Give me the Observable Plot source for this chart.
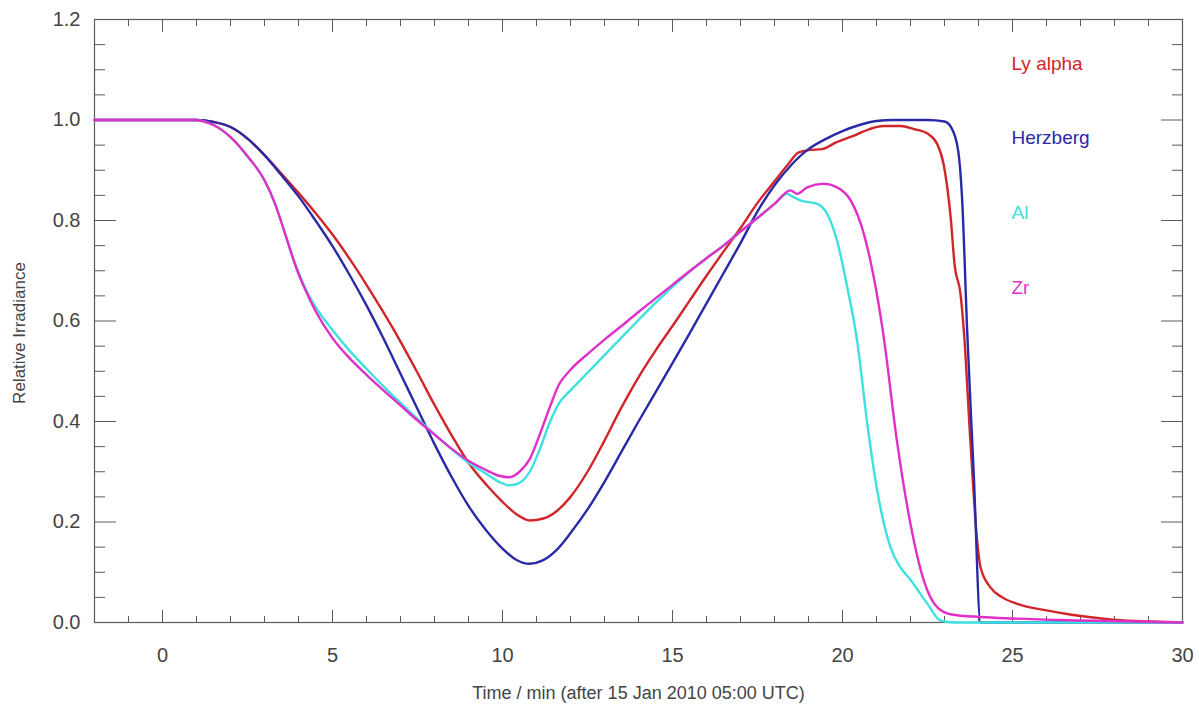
<!DOCTYPE html>
<html>
<head>
<meta charset="utf-8">
<script src="https://cdn.jsdelivr.net/npm/d3@7"></script>
<script src="https://cdn.jsdelivr.net/npm/@observablehq/plot@0.6"></script>
<style>
  html, body { margin: 0; padding: 0; background: #fff; }
</style>
</head>
<body>
<div id="chart"></div>
<script>
// Tick values
const xMajor = [0, 5, 10, 15, 20, 25, 30];
const xMinor = [-1, 1, 2, 3, 4, 6, 7, 8, 9, 11, 12, 13, 14, 16, 17, 18, 19, 21, 22, 23, 24, 26, 27, 28, 29];
const yMajor = [0, 0.2, 0.4, 0.6, 0.8, 1.0, 1.2];
const yMinor = [0.05, 0.1, 0.15, 0.25, 0.3, 0.35, 0.45, 0.5, 0.55, 0.65, 0.7, 0.75, 0.85, 0.9, 0.95, 1.05, 1.1, 1.15];

// Series names
const seriesNames = ["Ly alpha", "Herzberg", "Al", "Zr"];

// Ly alpha: [time (min), relative irradiance]
const lyAlpha = [
  [-2, 1.0], [1.0, 1.0], [1.5, 0.996], [2.0, 0.986], [2.5, 0.963], [3.0, 0.93], [3.5, 0.893],
  [4.0, 0.855], [4.5, 0.815], [5.0, 0.772], [5.5, 0.724], [6.0, 0.672], [6.5, 0.617], [7.0, 0.559],
  [7.5, 0.497], [8.0, 0.433], [8.5, 0.373], [9.0, 0.318], [9.5, 0.276], [10.0, 0.24], [10.4, 0.216],
  [10.8, 0.203], [11.2, 0.207], [11.6, 0.222], [12.0, 0.25], [12.5, 0.3], [13.0, 0.362], [13.5, 0.428],
  [14.0, 0.488], [14.5, 0.541], [15.0, 0.59], [15.5, 0.64], [16.0, 0.69], [16.5, 0.738], [17.0, 0.785],
  [17.5, 0.835], [18.0, 0.878], [18.4, 0.912], [18.7, 0.935], [19.0, 0.94], [19.4, 0.942], [19.8, 0.955],
  [20.3, 0.968], [20.8, 0.982], [21.2, 0.988], [21.7, 0.988], [22.1, 0.982], [22.5, 0.973], [22.78, 0.953],
  [22.98, 0.91], [23.18, 0.807], [23.3, 0.71], [23.47, 0.654], [23.57, 0.58], [23.76, 0.362], [23.96, 0.163],
  [24.06, 0.11], [24.35, 0.07], [24.7, 0.05], [25.14, 0.037], [26.0, 0.024], [26.6, 0.017], [27.5, 0.009],
  [28.07, 0.005], [29.0, 0.002], [30, 0.0]
];

// Herzberg
const herzberg = [
  [-2, 1.0], [1.0, 1.0], [1.5, 0.996], [2.0, 0.986], [2.5, 0.963], [3.0, 0.93], [3.5, 0.89],
  [4.0, 0.848], [4.5, 0.8], [5.0, 0.749], [5.5, 0.692], [6.0, 0.631], [6.5, 0.565], [7.0, 0.495],
  [7.5, 0.425], [8.0, 0.355], [8.5, 0.29], [9.0, 0.232], [9.5, 0.185], [10.0, 0.147], [10.4, 0.125],
  [10.8, 0.117], [11.2, 0.124], [11.6, 0.145], [12.0, 0.178], [12.5, 0.225], [13.0, 0.28], [13.5, 0.34],
  [14.0, 0.4], [14.5, 0.458], [15.0, 0.516], [15.5, 0.575], [16.0, 0.635], [16.5, 0.695], [17.0, 0.755],
  [17.5, 0.818], [18.0, 0.87], [18.5, 0.911], [19.0, 0.942], [19.5, 0.962], [20.0, 0.978], [20.5, 0.99],
  [21.0, 0.998], [21.5, 1.0], [22.5, 1.0], [23.0, 0.997], [23.2, 0.985], [23.4, 0.94], [23.52, 0.84],
  [23.67, 0.575], [23.86, 0.296], [24.06, 0.0], [30, 0.0]
];

// Al
const al = [
  [-2, 1.0], [0.9, 1.0], [1.5, 0.99], [2.0, 0.966], [2.5, 0.928], [3.0, 0.88], [3.3, 0.835],
  [3.6, 0.775], [3.9, 0.715], [4.2, 0.665], [4.5, 0.628], [5.0, 0.582], [5.5, 0.541], [6.0, 0.505],
  [6.5, 0.47], [7.0, 0.437], [7.5, 0.405], [8.0, 0.375], [8.5, 0.345], [9.0, 0.318], [9.5, 0.297],
  [9.9, 0.28], [10.2, 0.273], [10.5, 0.278], [10.8, 0.3], [11.1, 0.345], [11.4, 0.4], [11.7, 0.44],
  [12.0, 0.462], [12.5, 0.497], [13.0, 0.532], [13.5, 0.567], [14.0, 0.602], [14.5, 0.636], [15.0, 0.668],
  [15.5, 0.698], [16.0, 0.725], [16.5, 0.75], [17.0, 0.778], [17.5, 0.805], [18.0, 0.833], [18.37, 0.853],
  [18.57, 0.846], [18.76, 0.84], [19.26, 0.833], [19.55, 0.813], [19.84, 0.76], [20.14, 0.667],
  [20.43, 0.561], [20.73, 0.395], [21.02, 0.263], [21.41, 0.15], [21.7, 0.11], [22.0, 0.085],
  [22.5, 0.037], [22.88, 0.004], [23.3, 0.0], [30, 0.0]
];

// Zr
const zr = [
  [-2, 1.0], [0.9, 1.0], [1.5, 0.99], [2.0, 0.966], [2.5, 0.928], [3.0, 0.88], [3.3, 0.835],
  [3.6, 0.775], [3.9, 0.712], [4.2, 0.662], [4.5, 0.62], [5.0, 0.566], [5.5, 0.526], [6.0, 0.493],
  [6.5, 0.462], [7.0, 0.432], [7.5, 0.402], [8.0, 0.374], [8.5, 0.346], [9.0, 0.322], [9.5, 0.304],
  [9.9, 0.292], [10.2, 0.289], [10.5, 0.3], [10.8, 0.325], [11.1, 0.375], [11.4, 0.43], [11.65, 0.472],
  [12.0, 0.503], [12.5, 0.534], [13.0, 0.563], [13.5, 0.59], [14.0, 0.618], [14.5, 0.645], [15.0, 0.672],
  [15.5, 0.699], [16.0, 0.725], [16.5, 0.75], [17.0, 0.778], [17.5, 0.805], [18.0, 0.833], [18.47, 0.86],
  [18.67, 0.853], [18.96, 0.866], [19.45, 0.873], [19.84, 0.866], [20.24, 0.84], [20.63, 0.773],
  [20.92, 0.687], [21.2, 0.574], [21.6, 0.362], [22.0, 0.196], [22.39, 0.084], [22.79, 0.03],
  [23.2, 0.016], [24.06, 0.011], [25.0, 0.008], [27.0, 0.004], [30, 0.0]
];

const colors = {"Ly alpha": "#d0262a", "Herzberg": "#2a2aa8", "Al": "#3ee0e0", "Zr": "#e030c8"};
const seriesData = {"Ly alpha": lyAlpha, "Herzberg": herzberg, "Al": al, "Zr": zr};
const drawOrder = ["Ly alpha", "Herzberg", "Al", "Zr"];

const axisColor = "#5a5a5a";
const textColor = "#444";
const blank = () => "";

const lineMarks = drawOrder.map(name =>
  Plot.line(seriesData[name], {
    x: d => d[0], y: d => d[1],
    stroke: colors[name], strokeWidth: 2.4, curve: "monotone-x"
  })
);

const legendMarks = seriesNames.map((name, i) =>
  Plot.text([name], {
    frameAnchor: "top-left", text: d => d, dx: 917, dy: 44 + i * 74.7,
    textAnchor: "start", lineAnchor: "middle", fill: colors[name], fontSize: 19
  })
);

const chart = Plot.plot({
  width: 1199, height: 707,
  marginLeft: 94, marginRight: 17, marginTop: 19, marginBottom: 85,
  x: {domain: [-2, 30]},
  y: {domain: [0, 1.2]},
  style: {fontFamily: "'Liberation Sans', Arial, Helvetica, sans-serif", fontSize: "20px", color: textColor, background: "#fff"},
  marks: [
    // bottom axis
    Plot.axisX({anchor: "bottom", ticks: xMinor, tickSize: -6, tickFormat: blank, stroke: axisColor, label: null}),
    Plot.axisX({anchor: "bottom", ticks: xMajor, tickSize: -12, tickPadding: 37, tickFormat: d => String(d), stroke: axisColor, fill: textColor, fontSize: 20, label: null}),
    // top axis
    Plot.axisX({anchor: "top", ticks: xMinor, tickSize: -6, tickFormat: blank, stroke: axisColor, label: null}),
    Plot.axisX({anchor: "top", ticks: xMajor, tickSize: -12, tickFormat: blank, stroke: axisColor, label: null}),
    // left axis
    Plot.axisY({anchor: "left", ticks: yMinor, tickSize: -11, tickFormat: blank, stroke: axisColor, label: null}),
    Plot.axisY({anchor: "left", ticks: yMajor, tickSize: -22, tickPadding: 36, tickFormat: d3.format(".1f"), stroke: axisColor, fill: textColor, fontSize: 20, label: null}),
    // right axis
    Plot.axisY({anchor: "right", ticks: yMinor, tickSize: -11, tickFormat: blank, stroke: axisColor, label: null}),
    Plot.axisY({anchor: "right", ticks: yMajor, tickSize: -22, tickFormat: blank, stroke: axisColor, label: null}),
    Plot.frame({stroke: axisColor, strokeWidth: 1.2}),
    ...lineMarks,
    ...legendMarks,
    Plot.text(["Time / min (after 15 Jan 2010 05:00 UTC)"], {
      frameAnchor: "bottom", text: d => d, dy: 71, textAnchor: "middle", lineAnchor: "middle", fill: textColor, fontSize: 18
    }),
    Plot.text(["Relative Irradiance"], {
      frameAnchor: "left", text: d => d, dx: -75, dy: 12, rotate: -90, textAnchor: "middle", lineAnchor: "middle", fill: textColor, fontSize: 17
    })
  ]
});

document.getElementById("chart").appendChild(chart);
</script>
</body>
</html>
